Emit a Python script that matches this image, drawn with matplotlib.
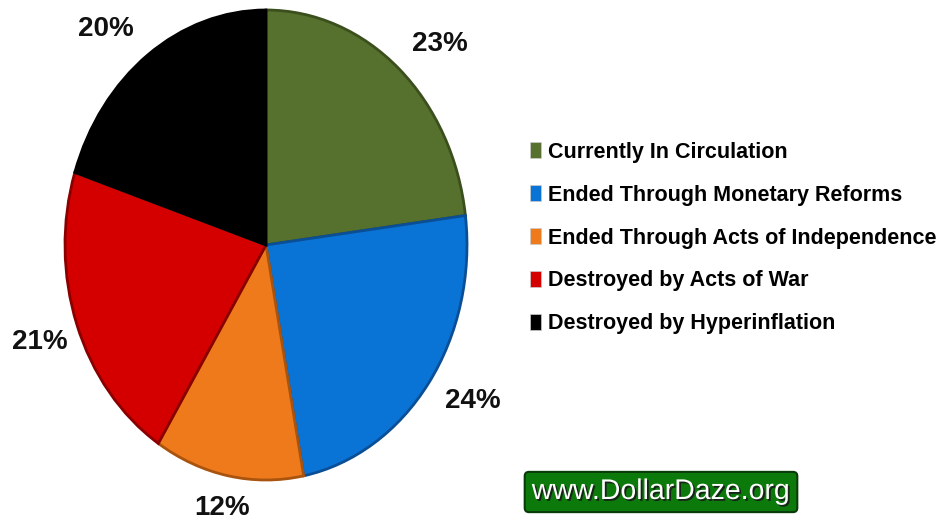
import matplotlib.pyplot as plt
import matplotlib.patheffects as pe
from matplotlib.patches import Patch

categories = ['Currently In Circulation', 'Ended Through Monetary Reforms',
              'Ended Through Acts of Independence', 'Destroyed by Acts of War',
              'Destroyed by Hyperinflation']
shares = [23, 24, 12, 21, 20]
colors = ['#56702e', '#0a74d6', '#ee7a1c', '#d40000', '#000000']
edges = ['#3b4f1c', '#0a4f96', '#a8540e', '#8a0000', '#000000']

plt.rcParams['font.family'] = ['Liberation Sans', 'DejaVu Sans']

fig = plt.figure(figsize=(9.43, 5.22), dpi=100)
W, H = 943, 522
ax = fig.add_axes([65 / W, (H - 480) / H, 402 / W, 470 / H])

wedges, texts, autotexts = ax.pie(
    shares, colors=colors, startangle=90, counterclock=False,
    autopct=lambda p: '%.0f%%' % p, pctdistance=1.16,
    wedgeprops=dict(linewidth=2),
    textprops=dict(fontsize=20, fontweight='bold', color='#111111'))
for w, e in zip(wedges, edges):
    w.set_edgecolor(e)
# small nudges so the labels sit where the original has them
nudges = [(0.1, -0.015), (0.09, 0.017), (0.0, 0.02), (-0.035, -0.02), (-0.115, -0.02)]
for t, (dx, dy) in zip(autotexts, nudges):
    x, y = t.get_position()
    t.set_position((x + dx, y + dy))
ax.set_aspect('auto')
ax.set_xlim(-1, 1)
ax.set_ylim(-1, 1)
ax.axis('off')

handles = [Patch(facecolor=c, edgecolor='#cccccc', linewidth=0.5) for c in colors]
fig.legend(handles, categories, loc='upper left',
           bbox_to_anchor=(521 / W, 1 - 133 / H), frameon=False,
           prop=dict(size=15.5, weight='bold'), handlelength=0.55, handleheight=0.75,
           handletextpad=0.3, labelspacing=1.02, borderaxespad=0)

fig.text(661 / W, 1 - 492 / H, 'www.DollarDaze.org', ha='center', va='center',
         fontsize=20.5, color='white', family=['Liberation Sans', 'DejaVu Sans'],
         path_effects=[pe.withSimplePatchShadow(offset=(1.3, -1.3), shadow_rgbFace='#1a1a1a', alpha=0.9)],
         bbox=dict(boxstyle='round,pad=0.25,rounding_size=0.15', facecolor='#0b7a0b',
                   edgecolor='#0a3a0a', linewidth=1.5))

fig.savefig('out.png', dpi=100)
